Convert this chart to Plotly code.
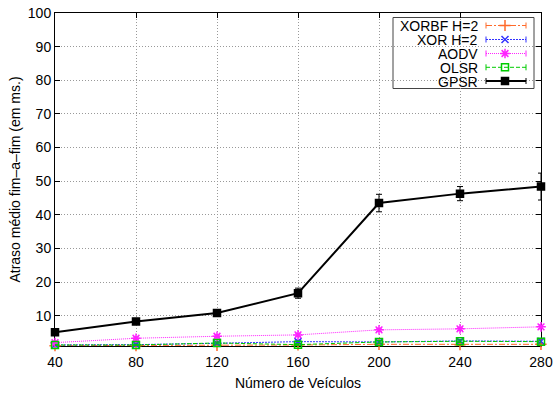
import plotly.graph_objects as go

# ---------------- data ----------------
vehicles = [40, 80, 120, 160, 200, 240, 280]

xorbf = [1.1, 1.1, 1.2, 1.3, 1.5, 1.4, 1.5]
xorbf_err = [0.2, 0.2, 0.2, 0.3, 0.3, 0.3, 0.3]

xor_h2 = [1.3, 1.4, 1.8, 2.3, 2.2, 2.5, 2.4]
xor_err = [0.2, 0.2, 0.3, 0.4, 0.4, 0.4, 0.4]

aodv = [2.0, 3.3, 3.9, 4.3, 5.8, 6.1, 6.7]
aodv_err = [0.3, 0.4, 0.4, 0.5, 0.5, 0.5, 0.6]

olsr = [1.3, 1.3, 1.9, 1.4, 2.2, 2.4, 2.3]
olsr_err = [0.2, 0.2, 0.3, 0.3, 0.4, 0.4, 0.4]

gpsr = [5.1, 8.3, 10.8, 16.7, 43.5, 46.3, 48.4]
gpsr_err = [0.4, 0.6, 0.9, 1.5, 2.6, 2.1, 4.0]

series_names = ["XORBF H=2", "XOR H=2", "AODV", "OLSR", "GPSR"]
x_ticks = [40, 80, 120, 160, 200, 240, 280]
y_ticks = [10, 20, 30, 40, 50, 60, 70, 80, 90, 100]

# ---------------- styles ----------------
FONT = "Liberation Sans, Arial, Helvetica, sans-serif"
styles = [
    dict(color="#ff6a2a", dash="6px,2px,2px,2px", symbol="cross-thin-open", size=8, width=1),
    dict(color="#3333ff", dash="2px,1px", symbol="x-thin-open", size=7, width=1),
    dict(color="#ff22ff", dash="1px,1px", symbol="asterisk-open", size=8, width=1),
    dict(color="#00cc00", dash="4px,2px", symbol="square-open", size=7, width=1),
    dict(color="#000000", dash="solid", symbol="square", size=7, width=2),
]
values = [xorbf, xor_h2, aodv, olsr, gpsr]
errors = [xorbf_err, xor_err, aodv_err, olsr_err, gpsr_err]

fig = go.Figure()

for name, vals, errs, st in zip(series_names, values, errors, styles):
    fig.add_trace(go.Scatter(
        x=vehicles, y=vals, name=name, mode="lines+markers",
        line=dict(color=st["color"], dash=st["dash"], width=st["width"]),
        marker=dict(symbol=st["symbol"], size=st["size"], color=st["color"],
                    line=dict(color=st["color"], width=1.5)),
        error_y=dict(type="data", array=errs, visible=True, color=st["color"],
                     thickness=1, width=3),
        showlegend=False, cliponaxis=False,
    ))

# ---------------- custom gnuplot-style legend (pixel coordinates on overlay axes) ----------------
L, R, T, B = 55, 541, 13, 346
leg_rows = [25.5, 39.5, 53.5, 67.3, 81.0]
sample_x0, sample_xm, sample_x1 = 486, 505, 526
text_right = 479

def px_to_dom_x(px):
    return (px - L) / (R - L)

def px_to_dom_y(py):
    return (B - py) / (B - T)

for name, row, st in zip(series_names, leg_rows, styles):
    fig.add_trace(go.Scatter(
        x=[sample_x0, sample_x1], y=[row, row], mode="lines",
        line=dict(color=st["color"], dash=st["dash"], width=st["width"]),
        xaxis="x2", yaxis="y2", showlegend=False, hoverinfo="skip",
    ))
    fig.add_trace(go.Scatter(
        x=[sample_x0, sample_x0, None, sample_x1, sample_x1],
        y=[row - 3, row + 3, None, row - 3, row + 3], mode="lines",
        line=dict(color=st["color"], width=1),
        xaxis="x2", yaxis="y2", showlegend=False, hoverinfo="skip",
    ))
    fig.add_trace(go.Scatter(
        x=[sample_xm], y=[row], mode="markers",
        marker=dict(symbol=st["symbol"], size=st["size"], color=st["color"],
                    line=dict(color=st["color"], width=1.5)),
        xaxis="x2", yaxis="y2", showlegend=False, hoverinfo="skip",
    ))
    fig.add_annotation(x=text_right, y=row, xref="x2", yref="y2", text=name,
                       showarrow=False, xanchor="right", yanchor="middle",
                       height=13, borderpad=0,
                       font=dict(family=FONT, size=14, color="#000000"))

fig.add_shape(type="rect", xref="x domain", yref="y domain",
              x0=px_to_dom_x(393), x1=px_to_dom_x(534),
              y0=px_to_dom_y(88.5), y1=px_to_dom_y(17.5),
              line=dict(color="#444444", width=1), fillcolor="white", layer="below")

fig.update_layout(
    width=554, height=394,
    margin=dict(l=L, r=554 - R, t=T, b=394 - B, autoexpand=False),
    paper_bgcolor="white", plot_bgcolor="white",
    font=dict(family=FONT, size=14, color="#000000"),
    showlegend=False,
    xaxis=dict(
        range=[40, 280], tickvals=x_ticks, ticktext=[str(v) for v in x_ticks],
        showline=True, linecolor="black", linewidth=1, mirror="ticks",
        ticks="inside", ticklen=5, tickcolor="black",
        showgrid=True, gridcolor="#999999", griddash="1px,2px", gridwidth=1,
        zeroline=False, layer="below traces", automargin=False,
        ticklabelstandoff=3,
        title=dict(text="Número de Veículos", font=dict(size=14), standoff=9),
        tickfont=dict(size=14),
    ),
    yaxis=dict(
        range=[1, 100], tickvals=y_ticks, ticktext=[str(v) for v in y_ticks],
        showline=True, linecolor="black", linewidth=1, mirror="ticks",
        ticks="inside", ticklen=5, tickcolor="black",
        showgrid=True, gridcolor="#999999", griddash="1px,2px", gridwidth=1,
        zeroline=False, layer="below traces", automargin=False,
        title=dict(text="Atraso médio fim\u2013a\u2013fim (em ms.)", font=dict(size=14), standoff=3),
        tickfont=dict(size=14),
    ),
    xaxis2=dict(range=[L, R], overlaying="x", anchor="y2", visible=False,
                showgrid=False, zeroline=False),
    yaxis2=dict(range=[B, T], overlaying="y", anchor="x2", visible=False,
                showgrid=False, zeroline=False),
)

fig.write_html("out.html", config={"displayModeBar": False},
               post_script="document.body.style.margin='0';")
